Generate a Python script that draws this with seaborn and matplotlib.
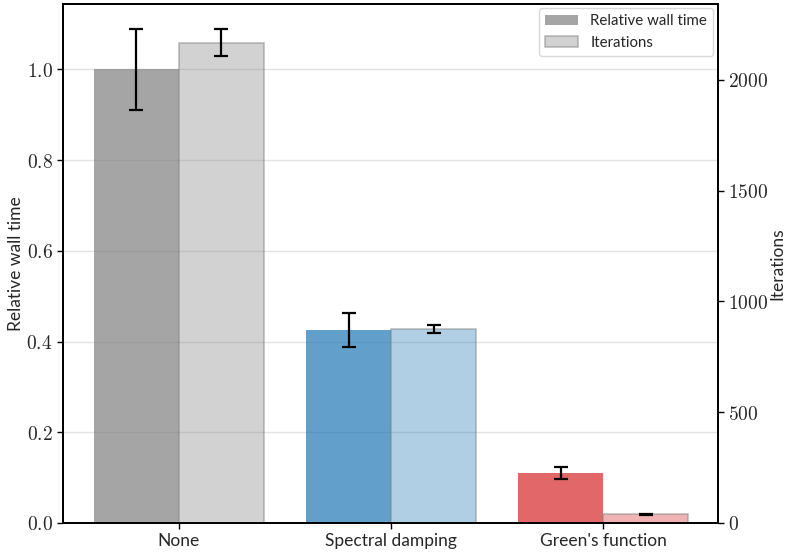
import numpy as np
import pandas as pd
import matplotlib
matplotlib.use("Agg")
import matplotlib.pyplot as plt
import seaborn as sns
from matplotlib.patches import Patch
from matplotlib.colors import to_rgba
from matplotlib.ticker import FuncFormatter

categories = ["None", "Spectral damping", "Green's function"]
wall_time = [1.00, 0.426, 0.110]
wall_time_err = [0.090, 0.038, 0.014]
iterations = [2167, 877, 39]
iterations_err = [60, 18, 2]
base_colors = ["tab:gray", "tab:blue", "tab:red"]
metrics = ["Relative wall time", "Iterations"]
left_ticks = [0.0, 0.2, 0.4, 0.6, 0.8, 1.0]
right_ticks = [0, 500, 1000, 1500, 2000]

sns.set_theme(style="ticks")
plt.rcParams["font.family"] = ["Lato", "DejaVu Sans"]
plt.rcParams["mathtext.fontset"] = "cm"

fig = plt.figure(figsize=(7.88, 5.54), dpi=100)
ax1 = fig.add_axes([0.080, 0.056, 0.831, 0.937])
ax2 = ax1.twinx()

df_wall = pd.DataFrame({"method": categories, "value": wall_time, "metric": metrics[0]})
df_it = pd.DataFrame({"method": categories, "value": iterations, "metric": metrics[1]})

sns.barplot(data=df_wall, x="method", y="value", hue="metric", hue_order=metrics,
            order=categories, dodge=True, width=0.8, saturation=1, legend=False,
            errorbar=None, ax=ax1)
sns.barplot(data=df_it, x="method", y="value", hue="metric", hue_order=metrics,
            order=categories, dodge=True, width=0.8, saturation=1, legend=False,
            errorbar=None, ax=ax2)

def style_and_centers(ax, alpha, edge, lw):
    centers = []
    for p in ax.patches:
        c = p.get_x() + p.get_width() / 2
        i = int(round(c))
        p.set_facecolor(to_rgba(base_colors[i], alpha))
        p.set_edgecolor(edge)
        p.set_linewidth(lw)
        centers.append((i, c))
    centers.sort()
    return [c for _, c in centers]

c1 = style_and_centers(ax1, 0.7, "none", 0)
c2 = style_and_centers(ax2, 0.35, (0.5, 0.5, 0.5, 0.55), 1.1)

ax1.errorbar(c1, wall_time, yerr=wall_time_err, fmt="none", ecolor="black",
             capsize=5, elinewidth=1.6, capthick=1.6, zorder=5)
ax2.errorbar(c2, iterations, yerr=iterations_err, fmt="none", ecolor="black",
             capsize=5, elinewidth=1.6, capthick=1.6, zorder=5)

ax1.set_xlim(-0.546, 2.54)
ax1.set_ylim(0, 1.1445)
ax2.set_ylim(0, 2342)
ax1.set_yticks(left_ticks)
ax2.set_yticks(right_ticks)
ax1.yaxis.set_major_formatter(FuncFormatter(lambda v, p: rf"${v:.1f}$"))
ax2.yaxis.set_major_formatter(FuncFormatter(lambda v, p: rf"${int(round(v))}$"))
ax1.tick_params(axis="y", labelsize=14, length=4, width=1, color="black")
ax2.tick_params(axis="y", labelsize=14, length=4, width=1, color="black")
ax1.tick_params(axis="x", labelsize=12.5, length=4, width=1, color="black")

ax1.set_xticks(range(len(categories)))
ax1.set_xticklabels(categories)
ax1.set_xlabel("")
ax2.set_xlabel("")
ax1.set_ylabel("Relative wall time", fontsize=12.5, labelpad=2)
ax2.set_ylabel("Iterations", fontsize=12.5, labelpad=1)

ax1.yaxis.grid(True, color="#e3e3e3", linewidth=1)
ax1.set_axisbelow(True)

for ax in (ax1, ax2):
    for s in ax.spines.values():
        s.set_color("black")
        s.set_linewidth(1.3)

handles = [Patch(facecolor=to_rgba("tab:gray", 0.7), edgecolor="none"),
           Patch(facecolor=to_rgba("tab:gray", 0.35), edgecolor=(0.5, 0.5, 0.5, 0.55), linewidth=1.1)]
leg = ax2.legend(handles, metrics, loc="upper right", fontsize=10.8, frameon=True,
                 borderaxespad=0.3, handlelength=2.2)
leg.get_frame().set_edgecolor("#d0d0d0")

fig.savefig("out.png", dpi=100)
